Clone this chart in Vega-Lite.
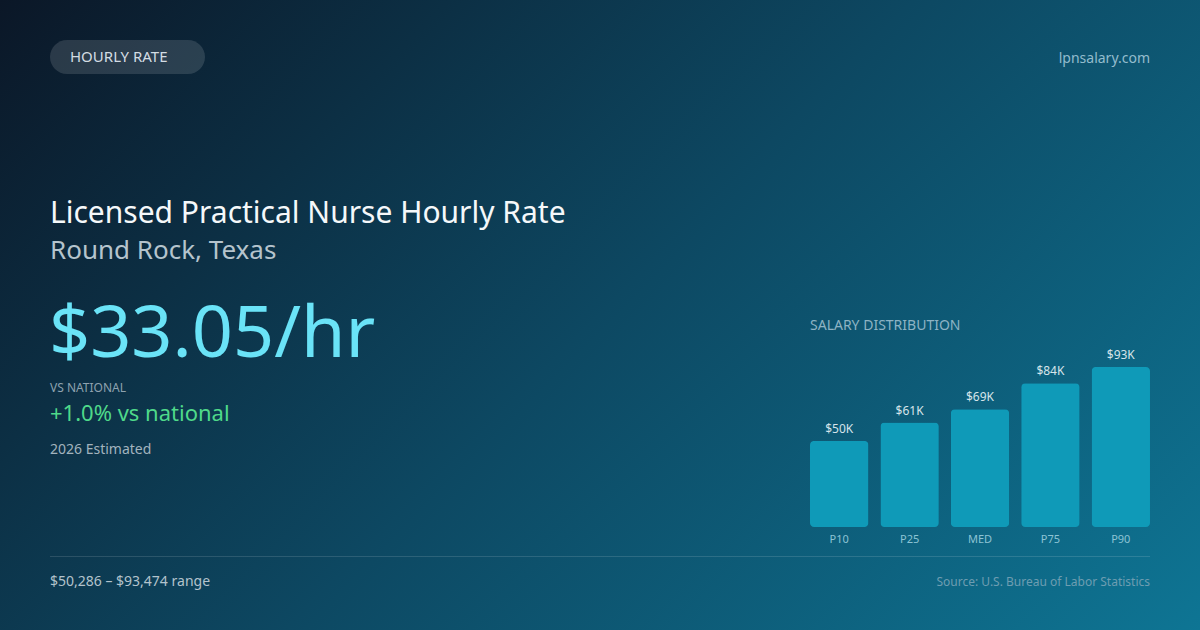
{
  "$schema": "https://vega.github.io/schema/vega-lite/v6.json",
  "width": 1200,
  "height": 630,
  "padding": 0,
  "autosize": {"type": "fit", "contains": "padding"},
  "background": "#0d3a50",
  "config": {
    "view": {"stroke": null},
    "text": {"font": "Noto Sans", "baseline": "alphabetic"}
  },
  "datasets": {
    "bars": [
      {"pct": "P10", "salary": 50286, "label": "$50K"},
      {"pct": "P25", "salary": 61000, "label": "$61K"},
      {"pct": "MED", "salary": 68744, "label": "$69K"},
      {"pct": "P75", "salary": 84000, "label": "$84K"},
      {"pct": "P90", "salary": 93474, "label": "$93K"}
    ],
    "one": [{}]
  },
  "layer": [
    {
      "data": {"name": "one"},
      "mark": {
        "type": "rect",
        "color": {
          "gradient": "linear",
          "x1": 0, "y1": 0, "x2": 1.196, "y2": 0.627,
          "stops": [
            {"offset": 0, "color": "#0b1727"},
            {"offset": 0.5, "color": "#0d4862"},
            {"offset": 1, "color": "#0e7594"}
          ]
        }
      },
      "encoding": {}
    },
    {
      "data": {"name": "one"},
      "mark": {"type": "rect", "cornerRadius": 17, "color": "#ffffff", "opacity": 0.13},
      "encoding": {
        "x": {"value": 50}, "x2": {"value": 205},
        "y": {"value": 40}, "y2": {"value": 74}
      }
    },
    {
      "data": {"name": "one"},
      "mark": {"type": "text", "text": "HOURLY RATE", "x": 70, "y": 62, "align": "left", "fontSize": 15, "color": "#d3dce3"}
    },
    {
      "data": {"name": "one"},
      "mark": {"type": "text", "text": "lpnsalary.com", "x": 1150, "y": 63, "align": "right", "fontSize": 14, "color": "#93bccd"}
    },
    {
      "data": {"name": "one"},
      "mark": {"type": "text", "text": "Licensed Practical Nurse Hourly Rate", "x": 50, "y": 223, "align": "left", "fontSize": 30, "color": "#f5f8fa"}
    },
    {
      "data": {"name": "one"},
      "mark": {"type": "text", "text": "Round Rock, Texas", "x": 50, "y": 259, "align": "left", "fontSize": 26, "color": "#b5c4cd"}
    },
    {
      "data": {"name": "one"},
      "mark": {"type": "text", "text": "$33.05/hr", "x": 49, "y": 357, "align": "left", "fontSize": 72, "color": "#6ae3f7"}
    },
    {
      "data": {"name": "one"},
      "mark": {"type": "text", "text": "VS NATIONAL", "x": 50, "y": 392, "align": "left", "fontSize": 12, "color": "#8ea2af"}
    },
    {
      "data": {"name": "one"},
      "mark": {"type": "text", "text": "+1.0% vs national", "x": 50, "y": 421, "align": "left", "fontSize": 22, "color": "#4fd98a"}
    },
    {
      "data": {"name": "one"},
      "mark": {"type": "text", "text": "2026 Estimated", "x": 50, "y": 454, "align": "left", "fontSize": 14, "color": "#a2b3be"}
    },
    {
      "data": {"name": "one"},
      "mark": {"type": "rule", "color": "#ffffff", "opacity": 0.13, "strokeWidth": 1},
      "encoding": {
        "x": {"value": 50}, "x2": {"value": 1150},
        "y": {"value": 556.5}, "y2": {"value": 556.5}
      }
    },
    {
      "data": {"name": "one"},
      "mark": {"type": "text", "text": "$50,286 – $93,474 range", "x": 50, "y": 586, "align": "left", "fontSize": 14, "color": "#b3c3cc"}
    },
    {
      "data": {"name": "one"},
      "mark": {"type": "text", "text": "Source: U.S. Bureau of Labor Statistics", "x": 1150, "y": 586, "align": "right", "fontSize": 12, "color": "#6d9db1"}
    },
    {
      "data": {"name": "one"},
      "mark": {"type": "text", "text": "SALARY DISTRIBUTION", "x": 810, "y": 330, "align": "left", "fontSize": 14, "color": "#8db3c4"}
    },
    {
      "data": {"name": "bars"},
      "mark": {"type": "bar", "cornerRadius": 4, "color": "#0f9ab8"},
      "encoding": {
        "x": {
          "field": "pct", "type": "nominal", "sort": null, "axis": null,
          "scale": {"range": [810, 1150], "paddingInner": 0.17, "paddingOuter": 0}
        },
        "y": {
          "field": "salary", "type": "quantitative", "axis": null,
          "scale": {"domain": [0, 93474], "range": [527, 367], "nice": false}
        }
      }
    },
    {
      "data": {"name": "bars"},
      "mark": {"type": "text", "dy": -8, "fontSize": 12, "color": "#d6e4ea"},
      "encoding": {
        "x": {"field": "pct", "type": "nominal", "sort": null},
        "y": {"field": "salary", "type": "quantitative"},
        "text": {"field": "label"}
      }
    },
    {
      "data": {"name": "bars"},
      "mark": {"type": "text", "y": 543, "fontSize": 11, "color": "#8cc3d4"},
      "encoding": {
        "x": {"field": "pct", "type": "nominal", "sort": null},
        "text": {"field": "pct"}
      }
    }
  ]
}
